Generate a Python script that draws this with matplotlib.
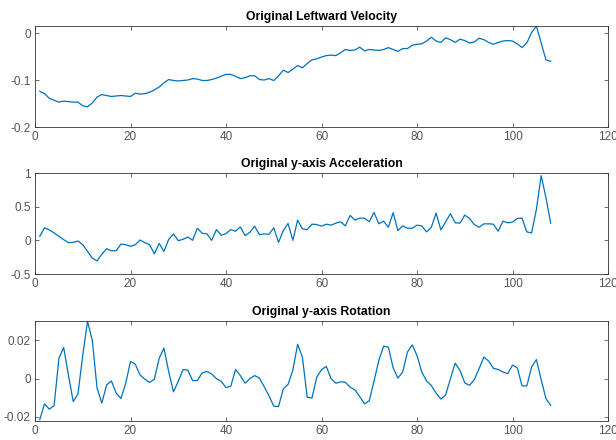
import matplotlib
matplotlib.use('Agg')
import numpy as np
import matplotlib.pyplot as plt

# sample index 1..108
samples = np.arange(1, 109)

leftward_velocity = [
    -0.124, -0.129, -0.139, -0.143, -0.147, -0.145, -0.146, -0.147, -0.147, -0.155,
    -0.157, -0.149, -0.136, -0.131, -0.133, -0.135, -0.134, -0.133, -0.134, -0.135,
    -0.128, -0.130, -0.129, -0.126, -0.121, -0.115, -0.106, -0.099, -0.101, -0.102,
    -0.101, -0.100, -0.097, -0.098, -0.101, -0.101, -0.099, -0.096, -0.092, -0.088,
    -0.088, -0.092, -0.097, -0.095, -0.091, -0.091, -0.099, -0.100, -0.097, -0.101,
    -0.091, -0.079, -0.084, -0.077, -0.069, -0.074, -0.065, -0.057, -0.055, -0.051,
    -0.048, -0.047, -0.048, -0.042, -0.035, -0.037, -0.036, -0.030, -0.038, -0.035,
    -0.036, -0.037, -0.035, -0.031, -0.035, -0.039, -0.033, -0.033, -0.026, -0.024,
    -0.023, -0.017, -0.009, -0.017, -0.020, -0.010, -0.014, -0.020, -0.013, -0.016,
    -0.021, -0.019, -0.011, -0.014, -0.020, -0.024, -0.020, -0.017, -0.016, -0.017,
    -0.023, -0.031, -0.021, 0.001, 0.015, -0.021, -0.057, -0.060,
]

y_acceleration = [
    0.06, 0.185, 0.155, 0.11, 0.06, 0.01, -0.035, -0.03, -0.01, -0.065,
    -0.165, -0.265, -0.305, -0.205, -0.125, -0.155, -0.155, -0.055, -0.065, -0.09,
    -0.065, 0.005, -0.035, -0.065, -0.2, -0.045, -0.165, 0.015, 0.095, -0.005,
    0.015, 0.05, 0.0, 0.18, 0.105, 0.095, 0.0, 0.16, 0.075, 0.1,
    0.16, 0.135, 0.2, 0.07, 0.12, 0.21, 0.085, 0.095, 0.09, 0.185,
    -0.03, 0.145, 0.25, 0.0, 0.3, 0.17, 0.16, 0.24, 0.235, 0.21,
    0.24, 0.225, 0.255, 0.275, 0.215, 0.37, 0.3, 0.33, 0.33, 0.275,
    0.415, 0.245, 0.285, 0.195, 0.41, 0.145, 0.215, 0.18, 0.18, 0.225,
    0.215, 0.125, 0.195, 0.405, 0.155, 0.275, 0.395, 0.26, 0.255, 0.375,
    0.325, 0.235, 0.195, 0.245, 0.245, 0.24, 0.135, 0.285, 0.26, 0.27,
    0.325, 0.33, 0.125, 0.11, 0.46, 0.96, 0.635, 0.255,
]

y_rotation = [
    -0.0215, -0.0132, -0.0160, -0.0142, 0.0106, 0.0163, 0.0019, -0.0120, -0.0080, 0.0123,
    0.0300, 0.0200, -0.0050, -0.0128, -0.0033, -0.0012, -0.0076, -0.0104, -0.0024, 0.0090,
    0.0076, 0.0019, -0.0003, -0.0020, -0.0003, 0.0106, 0.0160, 0.0036, -0.0069, -0.0014,
    0.0047, 0.0045, -0.0010, -0.0010, 0.0030, 0.0038, 0.0024, 0.0000, -0.0014, -0.0047,
    -0.0040, 0.0048, 0.0016, -0.0024, 0.0000, 0.0016, 0.0003, -0.0042, -0.0090, -0.0144,
    -0.0146, -0.0054, -0.0030, 0.0045, 0.0180, 0.0113, -0.0097, -0.0102, 0.0007, 0.0047,
    0.0064, 0.0000, -0.0024, -0.0017, -0.0019, -0.0045, -0.0059, -0.0094, -0.0132, -0.0116,
    -0.0012, 0.0095, 0.0170, 0.0165, 0.0057, 0.0003, 0.0035, 0.0139, 0.0177, 0.0121,
    0.0035, -0.0012, -0.0036, -0.0076, -0.0107, -0.0085, 0.0000, 0.0081, 0.0043, -0.0022,
    -0.0035, -0.0005, 0.0052, 0.0113, 0.0092, 0.0054, 0.0048, 0.0035, 0.0026, 0.0071,
    0.0057, -0.0038, -0.0038, 0.0061, 0.0100, -0.0005, -0.0104, -0.0140,
]

titles = ['Original Leftward Velocity', 'Original y-axis Acceleration',
          'Original y-axis Rotation']
xticks = [0, 20, 40, 60, 80, 100, 120]

plt.rcParams['font.family'] = ['Liberation Sans', 'DejaVu Sans']
plt.rcParams['axes.unicode_minus'] = False

W, H = 616, 440
fig = plt.figure(figsize=(W / 100, H / 100), dpi=100)

# axes boxes in pixels: top, bottom
boxes = [(26, 127), (173, 274), (321, 421)]
left, right = 35, 608

series = [leftward_velocity, y_acceleration, y_rotation]
ylims = [(-0.2, 0.015), (-0.5, 1.0), (-0.0222, 0.0302)]
yticks = [[-0.2, -0.1, 0], [-0.5, 0, 0.5, 1], [-0.02, 0, 0.02]]
yticklabels = [['-0.2', '-0.1', '0'], ['-0.5', '0', '0.5', '1'],
               ['-0.02', '0', '0.02']]

grey = '#555555'
for (top, bottom), vals, title, ylim, yt, ytl in zip(
        boxes, series, titles, ylims, yticks, yticklabels):
    ax = fig.add_axes([left / W, 1 - bottom / H, (right - left) / W,
                       (bottom - top) / H])
    ax.plot(samples, vals, color='#0072BD', lw=0.9)
    ax.set_xlim(0, 120)
    ax.set_ylim(*ylim)
    ax.set_xticks(xticks)
    ax.set_xticklabels([str(t) for t in xticks])
    ax.set_yticks(yt)
    ax.set_yticklabels(ytl)
    ax.tick_params(direction='in', top=True, right=True, length=3,
                   width=0.6, labelsize=8.5, colors=grey, pad=3)
    for s in ax.spines.values():
        s.set_color('#333333')
        s.set_linewidth(0.6)
    ax.set_title(title, fontsize=8.8, fontweight='bold', pad=4)

fig.savefig('out.png', dpi=100)
